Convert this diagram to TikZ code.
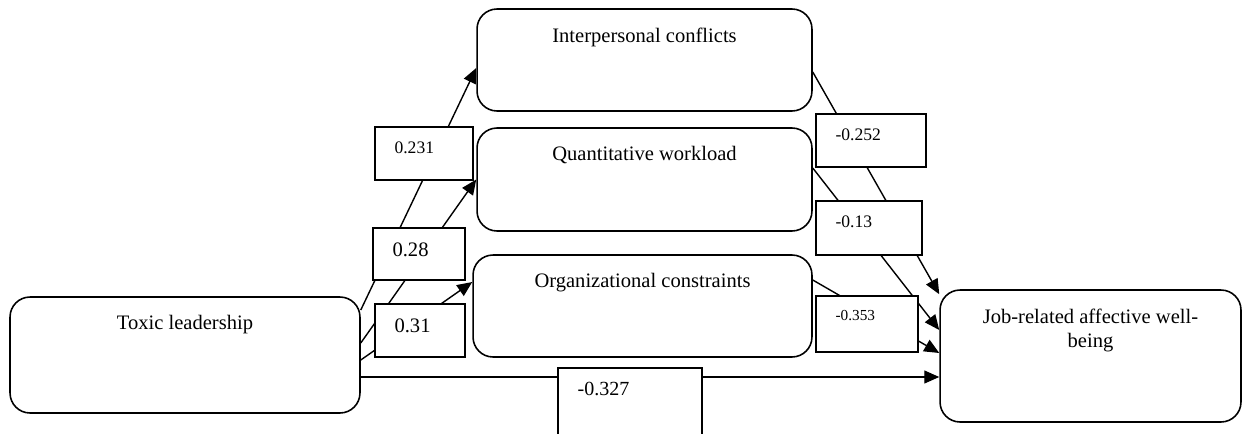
\documentclass[tikz,border=0pt]{standalone}
\usepackage{fontspec}
\setmainfont{Liberation Serif}
\usetikzlibrary{arrows.meta}

\begin{document}
\begin{tikzpicture}[x=0.02cm,y=-0.02cm,>={Triangle[length=0.3cm,width=0.26cm]},
    var/.style={draw,line width=0.9pt,rounded corners=0.4cm,fill=white,inner sep=0pt},
    wbox/.style={draw,line width=0.9pt,fill=white,inner sep=0pt},
    conn/.style={->,line width=0.8pt},
    vlab/.style={anchor=north,inner sep=0pt,yshift=-0.38cm,align=center,
      font=\fontsize{11.7}{13.8}\selectfont},
    wlab/.style={anchor=north west,inner sep=0pt,xshift=0.4cm,yshift=-0.3cm}]
    \useasboundingbox (0,0) rectangle (1243,433);
    % --- the five variables ---
    \node[var,minimum width=7cm,minimum height=2.32cm] (tl) at (185,355) {};
    \node[var,minimum width=6.7cm,minimum height=2.04cm] (ic) at (644.5,60) {};
    \node[var,minimum width=6.7cm,minimum height=2.06cm] (qw) at (644.5,179.5) {};
    \node[var,minimum width=6.78cm,minimum height=2.04cm] (oc) at (642.5,306) {};
    \node[var,minimum width=6.02cm,minimum height=2.64cm] (jr) at (1090.5,356) {};
    \node[vlab] (tl-t) at (tl.north) {Toxic leadership};
    \node[vlab] (ic-t) at (ic.north) {Interpersonal conflicts};
    \node[vlab] (qw-t) at (qw.north) {Quantitative workload};
    \node[vlab] (oc-t) at (oc.north) {Organizational constraints};
    \node[vlab] (jr-t) at (jr.north) {Job-related affective well-\\being};
    % --- paths ---
    \draw[conn] ([yshift=0.9cm]tl.east) -- ([yshift=-0.16cm]ic.west);
    \draw[conn] ([yshift=0.24cm]tl.east) -- (qw.west);
    \draw[conn] ([yshift=-0.1cm]tl.east) -- ([yshift=0.48cm]oc.west);
    \draw[conn] ([yshift=-0.44cm]tl.east) coordinate (d0) -- (d0 -| jr.west);
    \draw[conn] ([yshift=-0.24cm]ic.east) -- ([yshift=-0.1cm]jr.north west);
    \draw[conn] ([yshift=0.23cm]qw.east) -- ([yshift=0.52cm]jr.west);
    \draw[conn] ([yshift=0.52cm]oc.east) -- ([yshift=0.06cm]jr.west);
    % --- path coefficients ---
    \node[wbox,minimum width=1.96cm,minimum height=1.06cm] (w231) at (424,153.5) {};
    \node[wbox,minimum width=1.84cm,minimum height=1.04cm] (w28) at (419,254) {};
    \node[wbox,minimum width=1.8cm,minimum height=1.06cm] (w31) at (420,330.5) {};
    \node[wbox,minimum width=2.88cm,minimum height=1.6cm] (w327) at (630,408) {};
    \node[wbox,minimum width=2.2cm,minimum height=1.06cm] (w252) at (871,140.5) {};
    \node[wbox,minimum width=2.12cm,minimum height=1.08cm] (w13) at (869,228) {};
    \node[wbox,minimum width=2.04cm,minimum height=1.12cm] (w353) at (867,324) {};
    \node[wlab,font=\fontsize{10}{12}\selectfont] (w231-t) at (w231.north west) {0.231};
    \node[wlab,font=\fontsize{11.7}{14}\selectfont] (w28-t) at (w28.north west) {0.28};
    \node[wlab,font=\fontsize{11.7}{14}\selectfont] (w31-t) at (w31.north west) {0.31};
    \node[wlab,font=\fontsize{11.4}{14}\selectfont] (w327-t) at (w327.north west) {-0.327};
    \node[wlab,font=\fontsize{10}{12}\selectfont] (w252-t) at (w252.north west) {-0.252};
    \node[wlab,font=\fontsize{10}{12}\selectfont] (w13-t) at (w13.north west) {-0.13};
    \node[wlab,font=\fontsize{8.7}{10}\selectfont] (w353-t) at (w353.north west) {-0.353};
  \end{tikzpicture}
\end{document}
